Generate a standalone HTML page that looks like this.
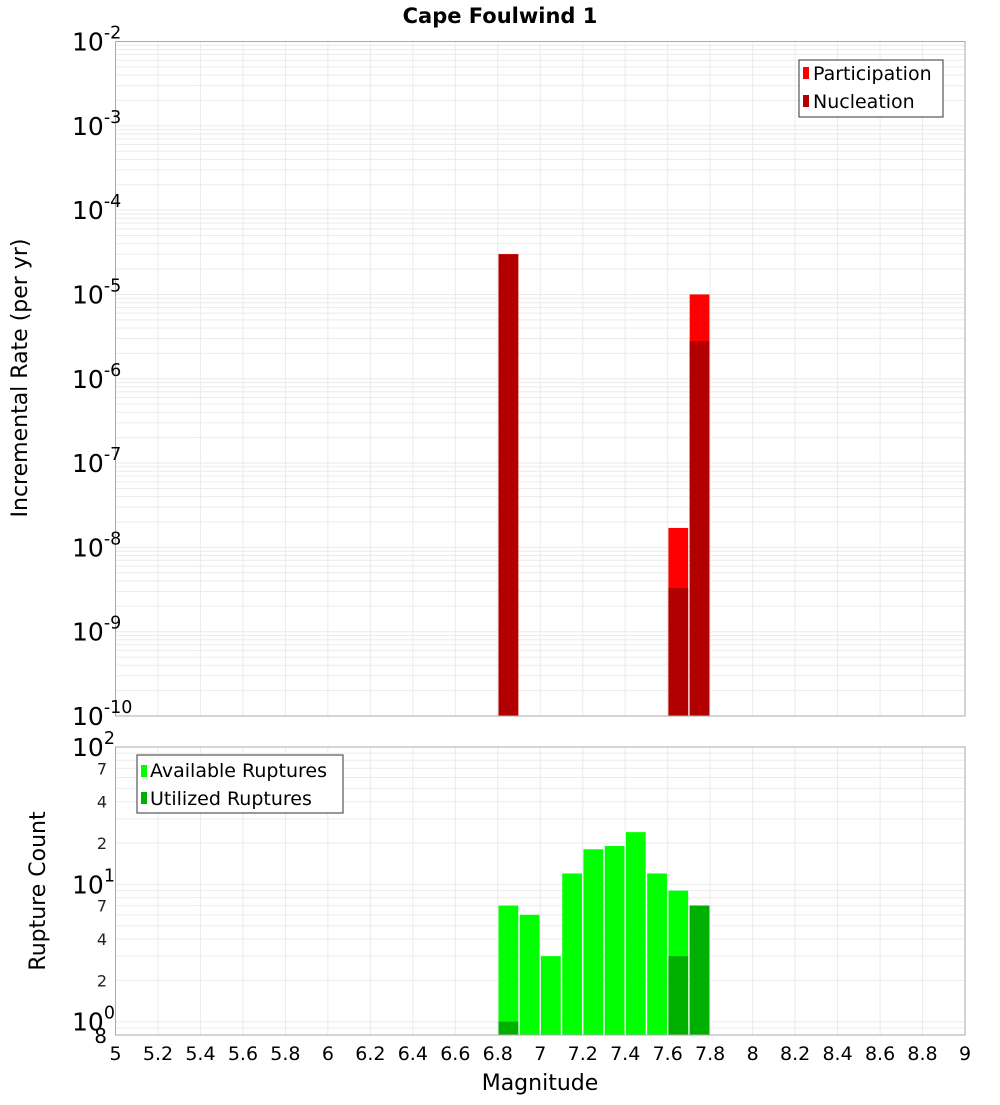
<!DOCTYPE html>
<html><head><meta charset="utf-8"><style>
body{margin:0;background:#fff;font-family:"Liberation Sans","DejaVu Sans",sans-serif}
svg text{font-family:"DejaVu Sans","Liberation Sans",sans-serif}
</style></head><body>
<svg id="c" width="1000" height="1100" xmlns="http://www.w3.org/2000/svg">
<rect width="1000" height="1100" fill="#fff"/>
<text x="500" y="23" text-anchor="middle" font-size="21" font-weight="bold">Cape Foulwind 1</text>
<g id="gtop"></g>
<g id="gbot"></g>
<text transform="translate(27,378) rotate(-90)" text-anchor="middle" font-size="22">Incremental Rate (per yr)</text>
<text transform="translate(45,891) rotate(-90)" text-anchor="middle" font-size="22">Rupture Count</text>
<text x="540" y="1090" text-anchor="middle" font-size="22">Magnitude</text>
<g>
<rect x="799" y="60" width="144" height="57" fill="#fff" stroke="#333"/>
<rect x="803" y="67" width="6" height="12" fill="#ff0000"/>
<text x="813" y="80" font-size="19">Participation</text>
<rect x="803" y="95" width="6" height="12" fill="#b20000"/>
<text x="813" y="108" font-size="19">Nucleation</text>
</g>
<g>
<rect x="137" y="755" width="206" height="58" fill="#fff" stroke="#333"/>
<rect x="141" y="765" width="6" height="12" fill="#00ff00"/>
<text x="150" y="777" font-size="19">Available Ruptures</text>
<rect x="141" y="792" width="6" height="12" fill="#00b000"/>
<text x="150" y="805" font-size="19">Utilized Ruptures</text>
</g>
</svg>
<script>
const mags=[6.85,6.95,7.05,7.15,7.25,7.35,7.45,7.55,7.65,7.75];
const participation=[3.0e-5,0,0,0,0,0,0,0,1.7e-8,1.0e-5];
const nucleation=[3.0e-5,0,0,0,0,0,0,0,3.3e-9,2.8e-6];
const available=[7,6,3,12,18,19,24,12,9,7];
const utilized=[1,0,0,0,0,0,0,0,3,7];
const xTicks=["5","5.2","5.4","5.6","5.8","6","6.2","6.4","6.6","6.8","7","7.2","7.4","7.6","7.8","8","8.2","8.4","8.6","8.8","9"];
const topExps=[-2,-3,-4,-5,-6,-7,-8,-9,-10];
const botMinor=["7","4","2"];

const NS="http://www.w3.org/2000/svg";
const L=115.5,R=965;
const X=m=>L+(m-5)/4*(R-L);
const T0=41.5,T1=716, BT=747, BB=1035;
const yTop=v=>T0+(-2-Math.log10(v))*(T1-T0)/8;
const yBot=v=>BT+(2-Math.log10(v))*(BB-BT)/(2-Math.log10(0.8));
function el(p,tag,a){const e=document.createElementNS(NS,tag);for(const k in a)e.setAttribute(k,a[k]);p.appendChild(e);return e;}
const gTop=document.getElementById('gtop'),gBot=document.getElementById('gbot');

function grid(g,y0,y1,yf,lo,hi){
  for(let d=lo;d<=hi;d++)for(let k=1;k<10;k++){const v=k*Math.pow(10,d);const y=yf(v);if(y<y0-0.5||y>y1+0.5)continue;
    const ln=el(g,'line',{x1:L,x2:R,y1:y,y2:y,stroke:'#ebebeb','stroke-width':1});
    
    }
  xTicks.forEach(t=>{const x=X(+t);const ln=el(g,'line',{x1:x,x2:x,y1:y0,y2:y1,stroke:'#ebebeb','stroke-width':1});
    
    });
}
grid(gTop,T0,T1,yTop,-10,-3);
grid(gBot,BT,BB,yBot,-1,1);

const bw=(X(5.1)-X(5))-1.5;
mags.forEach((m,i)=>{
  const x=X(m)-bw/2;
  if(participation[i]>0){const r=el(gTop,'rect',{x:x,y:yTop(participation[i]),width:bw,height:T1-yTop(participation[i]),fill:'#ff0000'});
    
    }
  if(nucleation[i]>0){const r=el(gTop,'rect',{x:x,y:yTop(nucleation[i]),width:bw,height:T1-yTop(nucleation[i]),fill:'#b20000'});
    
    }
  if(available[i]>0){const r=el(gBot,'rect',{x:x,y:yBot(available[i]),width:bw,height:BB-yBot(available[i]),fill:'#00ff00'});
    
    }
  if(utilized[i]>0){const r=el(gBot,'rect',{x:x,y:yBot(utilized[i]),width:bw,height:BB-yBot(utilized[i]),fill:'#00b000'});
    
    }
});
el(gTop,'rect',{x:L,y:T0,width:R-L,height:T1-T0,fill:'none',stroke:'#aaa'});
el(gBot,'rect',{x:L,y:BT,width:R-L,height:BB-BT,fill:'none',stroke:'#aaa'});

function pow(g,y,e,sz){const t=el(g,'text',{x:72,y:y+9,'font-size':sz});
  
  
  t.textContent='10';const s=el(t,'tspan',{dy:-12,'font-size':sz*0.7});s.textContent=e;}
topExps.forEach(e=>pow(gTop,yTop(Math.pow(10,e)),e,25));
[2,1,0].forEach(e=>pow(gBot,yBot(Math.pow(10,e)),e,25));
[0,1].forEach(d=>botMinor.forEach(s=>{const t=el(gBot,'text',{x:107,y:yBot(+s*Math.pow(10,d))+6,'font-size':16,'text-anchor':'end',fill:'#222'});
  
  
  t.textContent=s;}));
{const t=el(gBot,'text',{x:107,y:1043,'font-size':20,'text-anchor':'end'});
 
 
 t.textContent='8';}
xTicks.forEach(s=>{const t=el(gBot,'text',{x:X(+s),y:1060,'font-size':19,'text-anchor':'middle'});
  
  
  t.textContent=s;});
</script>
</body></html>
